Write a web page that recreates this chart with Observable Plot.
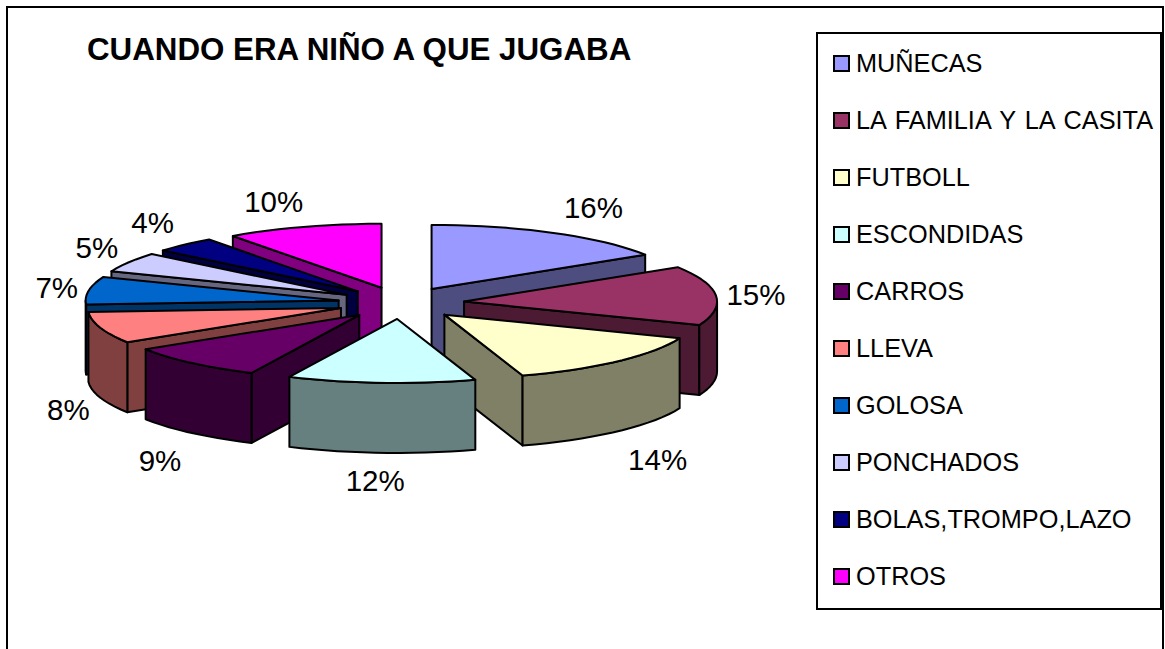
<!DOCTYPE html>
<html lang="es">
<head>
<meta charset="utf-8">
<script src="https://cdn.jsdelivr.net/npm/d3@7"></script>
<script src="https://cdn.jsdelivr.net/npm/@observablehq/plot@0.6"></script>
<style>
  html, body { margin: 0; padding: 0; background: #fff; overflow: hidden; }
  #page { position: relative; width: 1165px; height: 649px; font-family: "Liberation Sans", Arial, sans-serif; color: #000; overflow: hidden; }
  #page svg { display: block; position: absolute; left: 0; top: 0; }
  #frame { position: absolute; left: 6px; top: 6px; width: 1154px; height: 660px; border: 2px solid #000; box-sizing: content-box; }
  #title { position: absolute; left: 87px; top: 33px; font-weight: bold; font-size: 31.3px; line-height: 34px; white-space: nowrap; }
  #legend { position: absolute; left: 816px; top: 32px; width: 342px; height: 573.5px; border: 2px solid #000; background: #fff; }
  .entry { position: absolute; left: 0; height: 30px; white-space: nowrap; font-size: 25.3px; word-spacing: 2.2px; }
  .swatch { position: absolute; left: 15px; top: 7px; width: 13px; height: 13px; border: 2px solid #000; }
  .name { position: absolute; left: 38px; top: 0; line-height: 30px; }
</style>
</head>
<body>
<div id="page">
  <div id="frame"></div>
  <div id="chart"></div>
  <div id="title">CUANDO ERA NIÑO A QUE JUGABA</div>
  <div id="legend"></div>
</div>
<script>
const categories = ["MUÑECAS", "LA FAMILIA Y LA CASITA", "FUTBOLL", "ESCONDIDAS", "CARROS", "LLEVA", "GOLOSA", "PONCHADOS", "BOLAS,TROMPO,LAZO", "OTROS"];
const percents = [16, 15, 14, 12, 9, 8, 7, 5, 4, 10];
const colors = ["#9999FF", "#993366", "#FFFFCC", "#CCFFFF", "#660066", "#FF8080", "#0066CC", "#CCCCFF", "#000080", "#FF00FF"];
const drawOrder = [9, 8, 7, 6, 5, 4, 0, 1, 2, 3];

// Pie projection: one unit is the pie's radius in each direction.
const W = 1165, H = 649;
const cx = 400.6, cy = 302.5, rx = 253, ry = 64;
const depth = 70 / ry, explode = 0.25;
const rad = (deg) => deg * Math.PI / 180;
const shade = (c) => { const k = d3.rgb(c); return d3.rgb(k.r * 0.5, k.g * 0.5, k.b * 0.5).formatHex(); };

const total = d3.sum(percents);
let run = 0;
const slices = percents.map((p, i) => {
  const a0 = run / total * 360; run += p; const a1 = run / total * 360;
  const mid = (a0 + a1) / 2;
  return { i, p, a0, a1, mid, ax: explode * Math.sin(rad(mid)), ay: -explode * Math.cos(rad(mid)) };
});
const rim = (s, a) => [s.ax + Math.sin(rad(a)), s.ay - Math.cos(rad(a))];
const arc = (s, a, b) => {
  const n = Math.max(1, Math.ceil((b - a) / 3));
  return d3.range(n + 1).map((k) => rim(s, a + (b - a) * k / n));
};

const polys = [];
const addPoly = (pts, fill) => {
  const id = polys.length ? polys[polys.length - 1].id + 1 : 0;
  [...pts, pts[0]].forEach(([x, y]) => polys.push({ id, x, y, fill }));
};
const drop = (pts) => pts.map(([x, y]) => [x, y + depth]);

for (const i of drawOrder) {
  const s = slices[i], side = shade(colors[i]);
  const apex = [s.ax, s.ay];
  // Cut faces turned towards the viewer
  if (Math.sin(rad(s.a0)) < -1e-6) {
    const e = rim(s, s.a0);
    addPoly([apex, e, ...drop([e, apex])], side);
  }
  if (Math.sin(rad(s.a1)) > 1e-6) {
    const e = rim(s, s.a1);
    addPoly([apex, e, ...drop([e, apex])], side);
  }
  // Outer wall, the part on the near half of the ellipse
  const lo = Math.max(s.a0, 90), hi = Math.min(s.a1, 270);
  if (hi > lo) {
    const top = arc(s, lo, hi);
    addPoly([...top, ...drop(top).reverse()], side);
  }
  // Top face
  addPoly([apex, ...arc(s, s.a0, s.a1)], colors[i]);
}

// Percentage labels sit just outside the visible rim at each slice's middle.
const clamp = (v, a, b) => Math.max(a, Math.min(b, v));
const labels = slices.map((s) => {
  const sn = Math.sin(rad(s.mid)), cs = Math.cos(rad(s.mid));
  const [rxp, ryp] = rim(s, s.mid);
  const offX = sn > 0 ? 40 * clamp(sn * 3, 0, 1) : 32 * clamp(sn * 3, -1, 0);
  const offY = cs > 0 ? -24 * clamp((cs - 0.1) / 0.7, 0, 1) : clamp(-cs * 40, 0, 29);
  return {
    x: rxp + offX / rx,
    y: ryp + (cs < 0 ? depth : 0) + offY / ry,
    text: s.p + "%"
  };
});

const chart = Plot.plot({
  width: W, height: H,
  margin: 0,
  style: { background: "transparent" },
  x: { axis: null, domain: [-cx / rx, (W - cx) / rx], range: [0, W] },
  y: { axis: null, domain: [-cy / ry, (H - cy) / ry], range: [0, H] },
  color: { type: "identity" },
  marks: [
    Plot.line(polys, { x: "x", y: "y", z: "id", fill: "fill", stroke: "#000", strokeWidth: 2, strokeLinejoin: "round", curve: "linear" }),
    Plot.text(labels, { x: "x", y: "y", text: "text", fontSize: 29.5, fontFamily: "Liberation Sans, Arial, sans-serif", fill: "#000" })
  ]
});
document.getElementById("chart").appendChild(chart);

const legend = document.getElementById("legend");
categories.forEach((name, i) => {
  const e = document.createElement("div");
  e.className = "entry";
  e.style.top = (13.5 + i * 57.1) + "px";
  e.style.width = "340px";
  const sw = document.createElement("div");
  sw.className = "swatch";
  sw.style.background = colors[i];
  const t = document.createElement("div");
  t.className = "name";
  t.textContent = name;
  e.append(sw, t);
  legend.appendChild(e);
});
</script>
</body>
</html>
